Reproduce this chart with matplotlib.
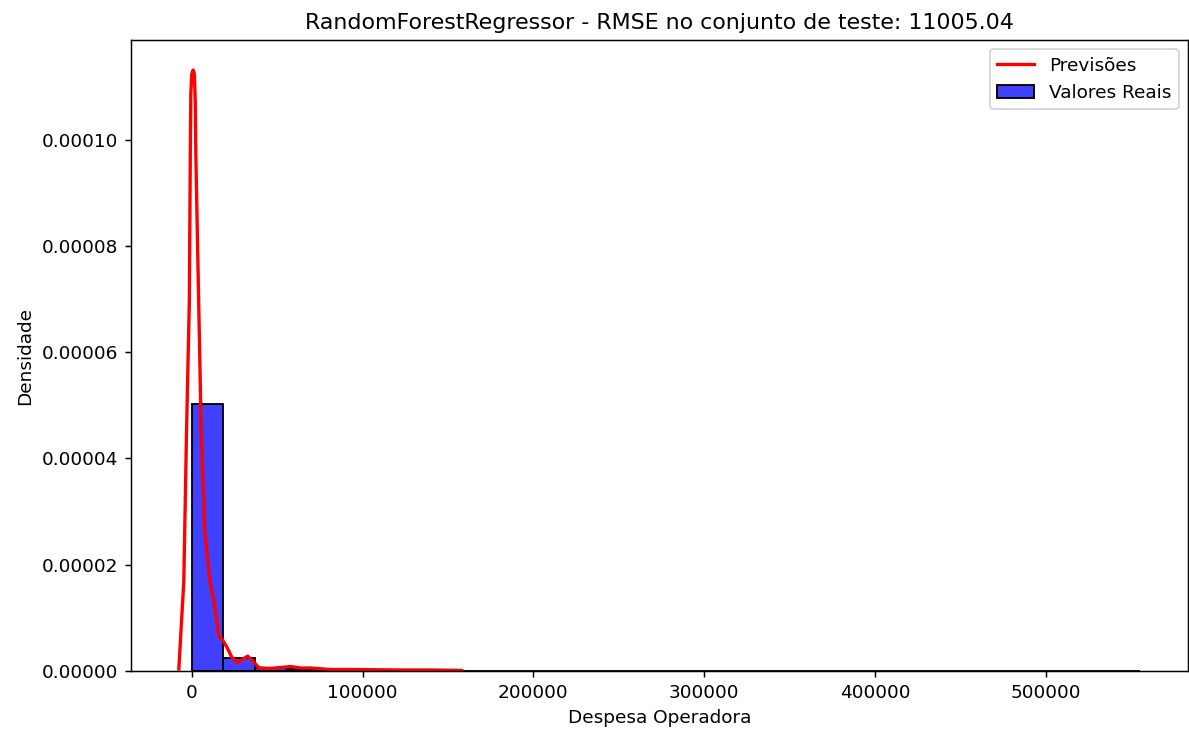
import numpy as np
import matplotlib
matplotlib.use("Agg")
from matplotlib import pyplot as plt

# Histogram of real values (density per bin), bins of equal width from 0
bin_start = 0
bin_width = 18500
densidade_reais = [5.02e-5, 2.4e-6, 5.0e-7, 3.0e-7, 1.5e-7, 1.0e-7, 6e-8, 4e-8, 3e-8, 2e-8,
                   0, 0, 0, 0, 0, 0, 0, 0, 0, 0,
                   0, 0, 0, 0, 0, 0, 0, 0, 0, 1e-9]

# KDE of predictions
kde_x = [-7600, -4680, -3100, -1460, -880, -585, 0, 760, 1460, 2050, 2340, 3330, 5560,
         7600, 10500, 12870, 15790, 18100, 20500, 23400, 26700, 29800, 32700, 35700,
         39200, 45000, 52000, 57900, 63700, 69600, 81300, 93000, 122000, 140000, 158000]
kde_y = [3.7e-7, 1.70e-5, 4.5e-5, 6.95e-5, 9.76e-5, 1.088e-4, 1.124e-4, 1.131e-4,
         1.124e-4, 1.069e-4, 9.76e-5, 8.07e-5, 4.42e-5, 2.64e-5, 1.70e-5, 1.33e-5,
         6.55e-6, 5.8e-6, 4.5e-6, 2.6e-6, 1.55e-6, 2.25e-6, 2.8e-6, 1.87e-6, 6.2e-7,
         4.7e-7, 6.5e-7, 8.4e-7, 5.6e-7, 5.6e-7, 2.8e-7, 2.8e-7, 1.9e-7, 1.9e-7, 1e-7]

rmse = 11005.04

dpi = 133
fig, ax = plt.subplots(figsize=(1189 / dpi, 733 / dpi), dpi=dpi)
fig.subplots_adjust(left=0.110, right=0.999, top=0.9454, bottom=0.0846)

edges = bin_start + bin_width * np.arange(len(densidade_reais))
ax.bar(edges, densidade_reais, width=bin_width, align='edge', color=(0.25, 0.25, 1.0),
       edgecolor='black', linewidth=1, label='Valores Reais')
ax.plot(kde_x, kde_y, color='red', linewidth=1.8, label='Previsões')

ax.set_title('RandomForestRegressor - RMSE no conjunto de teste: {:.2f}'.format(rmse))
ax.set_xlabel('Despesa Operadora')
ax.set_ylabel('Densidade')
ax.yaxis.set_major_formatter(matplotlib.ticker.FormatStrFormatter('%.5f'))

ax.legend(loc='upper right')

fig.savefig('out.png', dpi=dpi)
